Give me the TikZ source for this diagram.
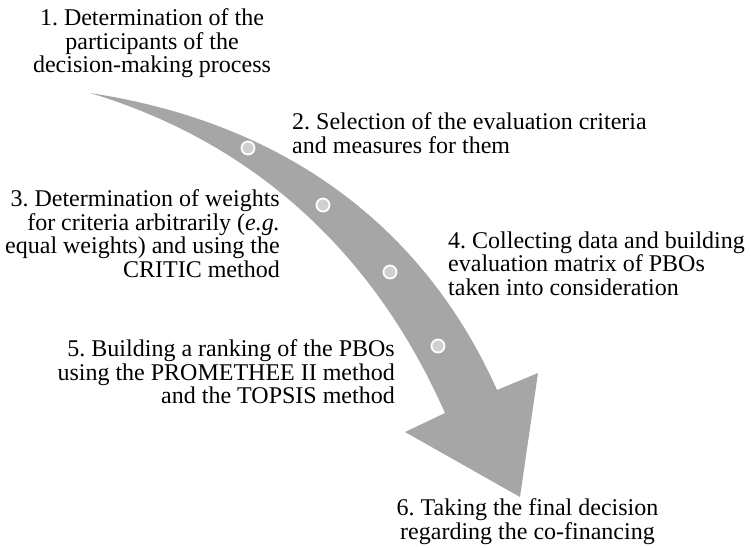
\documentclass[tikz,border=0pt]{standalone}
\usepackage{fontspec}
\setmainfont{Liberation Serif}
\frenchspacing
\definecolor{arrowgray}{RGB}{166,166,166}
\definecolor{dotgray}{RGB}{208,208,208}
\begin{document}
\begin{tikzpicture}[x=1pt,y=-1pt,text node/.style={inner sep=0,font=\fontsize{24}{23.5}\selectfont},dot node/.style={circle,fill=dotgray,draw=white,line width=1.8pt,minimum size=13pt,inner sep=0}]
        \useasboundingbox (0,0) rectangle (751,547);
        \fill[arrowgray] (90,93) .. controls (300,125) and (430,240) .. (497,390)
            -- (538,373) -- (520,497) -- (405,432) -- (445,413)
            .. controls (364,230) and (230,135) .. cycle;

        \node[dot node] at (248,148) (d1) {};
        \node[dot node] at (323,205) (d2) {};
        \node[dot node] at (390,272) (d3) {};
        \node[dot node] at (438,346) (d4) {};

        \node[text node, anchor=north, align=center] at (152,8.5) (t1) {1. Determination of the\\participants of the\\decision-making process};
        \node[text node, anchor=north west, align=left] at (292,112.5) (t2) {2. Selection of the evaluation criteria\\and measures for them};
        \node[text node, anchor=north east, align=right] at (280,189.5) (t3) {3. Determination of weights\\for criteria arbitrarily (\textit{e.g.}\\equal weights) and using the\\CRITIC method};
        \node[text node, anchor=north west, align=left] at (448,231.5) (t4) {4. Collecting data and building\\evaluation matrix of PBOs\\taken into consideration};
        \node[text node, anchor=north east, align=right] at (395,339.5) (t5) {5. Building a ranking of the PBOs\\using the PROMETHEE II method\\and the TOPSIS method};
        \node[text node, anchor=north, align=center] at (527.5,498.5) (t6) {6. Taking the final decision\\regarding the co-financing};
\end{tikzpicture}
\end{document}
